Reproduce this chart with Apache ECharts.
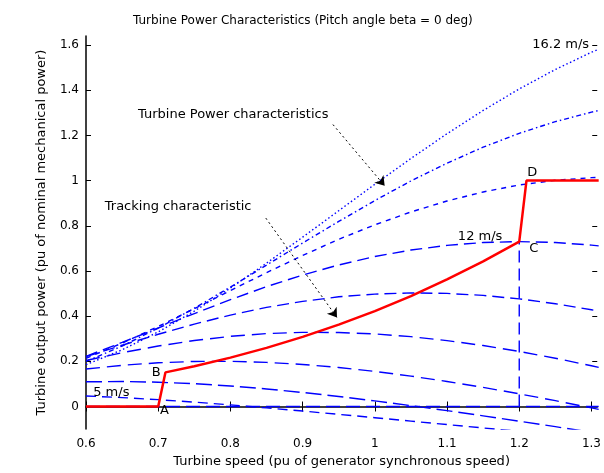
<!DOCTYPE html>
<html>
<head>
<meta charset="utf-8">
<script src="https://cdn.jsdelivr.net/npm/echarts@6/dist/echarts.min.js"></script>
<style>
  html, body { margin: 0; padding: 0; background: #fff; }
  #chart { width: 604px; height: 473px; }
</style>
</head>
<body>
<div id="chart"></div>
<script>
// turbine speed samples (pu)
var speed = [0.6, 0.65, 0.7, 0.75, 0.8, 0.85, 0.9, 0.95, 1.0, 1.05, 1.1, 1.15, 1.2, 1.25, 1.3, 1.31];

// turbine output power (pu) for each wind speed
var p162 = [0.1854, 0.2508, 0.3302, 0.4221, 0.5244, 0.6344, 0.7495, 0.8667, 0.9836, 1.0979, 1.2074, 1.3105, 1.4057, 1.4918, 1.5681, 1.5813];
var p148 = [0.1995, 0.2677, 0.3471, 0.4351, 0.5287, 0.6258, 0.7236, 0.8194, 0.9116, 0.9983, 1.0771, 1.1478, 1.2093, 1.2610, 1.3028, 1.3101];
var p134 = [0.2133, 0.2804, 0.3543, 0.4332, 0.5133, 0.5924, 0.6685, 0.7401, 0.8043, 0.8611, 0.9097, 0.9497, 0.9806, 1.0012, 1.0129, 1.0142];
var p120 = [0.2221, 0.2836, 0.3475, 0.4114, 0.4729, 0.5305, 0.5818, 0.6265, 0.6641, 0.6925, 0.7132, 0.7258, 0.7300, 0.7260, 0.7144, 0.7112];
var p106 = [0.2211, 0.2712, 0.3197, 0.3649, 0.4047, 0.4389, 0.4655, 0.4856, 0.4976, 0.5029, 0.5006, 0.4918, 0.4764, 0.4551, 0.4282, 0.4224];
var p92 = [0.2037, 0.2380, 0.2677, 0.2922, 0.3106, 0.3228, 0.3282, 0.3276, 0.3212, 0.3092, 0.2918, 0.2698, 0.2437, 0.2138, 0.1802, 0.1731];
var p78 = [0.1658, 0.1824, 0.1936, 0.1995, 0.2000, 0.1954, 0.1862, 0.1727, 0.1553, 0.1346, 0.1109, 0.0847, 0.0561, 0.0258, -0.0061, -0.0128];
var p64 = [0.1093, 0.1106, 0.1077, 0.1010, 0.0908, 0.0778, 0.0621, 0.0444, 0.0248, 0.0039, -0.0183, -0.0413, -0.0651, -0.0893, -0.1138, -0.1188];
var p50 = [0.0466, 0.0395, 0.0303, 0.0193, 0.0071, -0.0062, -0.0201, -0.0347, -0.0496, -0.0647, -0.0799, -0.0950, -0.1101, -0.1251, -0.1398, -0.1427];

// tracking characteristic A-B-C-D
var trackSpeed = [0.6, 0.7, 0.71, 0.75, 0.8, 0.85, 0.9, 0.95, 1.0, 1.05, 1.1, 1.15, 1.2, 1.21, 1.31];
var trackPower = [0, 0, 0.151, 0.1782, 0.2163, 0.2594, 0.3080, 0.3622, 0.4225, 0.4890, 0.5623, 0.6425, 0.73, 1.0, 1.0];

// helper lines
var zeroSpeed = [0.6, 1.31];
var zeroPower = [0, 0];
var cSpeed = [1.2, 1.2];
var cPower = [0, 0.73];

// tick labels
var xTicks = [0.6, 0.7, 0.8, 0.9, 1, 1.1, 1.2, 1.3];
var yTicks = [0, 0.2, 0.4, 0.6, 0.8, 1, 1.2, 1.4, 1.6];

// text annotations [speed, power, text]
var notes = [
  [0.672, 1.292, 'Turbine Power characteristics'],
  [0.626, 0.884, 'Tracking characteristic'],
  [1.218, 1.60, '16.2 m/s'],
  [1.115, 0.75, '12 m/s'],
  [0.61, 0.06, '5 m/s'],
  [0.7024, -0.018, 'A'],
  [0.691, 0.149, 'B'],
  [1.214, 0.699, 'C'],
  [1.211, 1.037, 'D']
];
var arrows = [
  [[0.942, 1.248], [1.0136, 0.977]],
  [[0.849, 0.834], [0.9476, 0.394]]
];

var font = 'DejaVu Sans, Liberation Sans, sans-serif';

function pairs (xs, ys) {
  return xs.map(function (x, i) { return [x, ys[i]] })
}

var curves = [
  { data: p162, dash: [1.5, 2.5] },
  { data: p148, dash: [5, 3, 1.5, 3] },
  { data: p134, dash: [5, 5] },
  { data: p120, dash: [12, 6] },
  { data: p106, dash: [12, 6] },
  { data: p92, dash: [14, 7] },
  { data: p78, dash: [14, 7] },
  { data: p64, dash: [16, 6] },
  { data: p50, dash: [10, 6] }
]

var series = curves.map(function (c) {
  return {
    type: 'line',
    data: pairs(speed, c.data),
    symbol: 'none',
    lineStyle: { color: '#0000ff', width: 1.4, type: c.dash },
    z: 2
  }
})

series.push({
  type: 'line',
  data: pairs(zeroSpeed, zeroPower),
  symbol: 'none',
  lineStyle: { color: '#0000ff', width: 1.4, type: [14, 6] },
  z: 2
})
series.push({
  type: 'line',
  data: pairs(cSpeed, cPower),
  symbol: 'none',
  lineStyle: { color: '#0000ff', width: 1.4, type: [12, 6] },
  z: 2
})
series.push({
  type: 'line',
  data: pairs(trackSpeed, trackPower),
  symbol: 'none',
  lineStyle: { color: '#ff0000', width: 2.5 },
  z: 5
})
series.push({
  type: 'scatter',
  symbolSize: 0,
  silent: true,
  data: notes.map(function (n) {
    return { value: [n[0], n[1]], name: n[2] }
  }),
  label: {
    show: true,
    position: 'right',
    distance: 0,
    formatter: '{b}',
    color: '#000000',
    opacity: 1,
    fontSize: 13,
    fontFamily: font
  },
  markLine: {
    silent: true,
    symbol: ['none', 'arrow'],
    symbolSize: 9,
    label: { show: false },
    lineStyle: { color: '#000', width: 1, type: [2, 3] },
    data: arrows.map(function (a) {
      return [{ coord: a[0] }, { coord: a[1] }]
    })
  },
  z: 6
})

var chart = echarts.init(document.getElementById('chart'))
chart.setOption({
  animation: false,
  backgroundColor: '#fff',
  title: {
    text: 'Turbine Power Characteristics (Pitch angle beta = 0 deg)',
    left: 128,
    top: 10,
    textStyle: { fontSize: 12, fontWeight: 'normal', color: '#000', fontFamily: font }
  },
  grid: { left: 86, right: 6, top: 36, bottom: 41 },
  xAxis: [{
    type: 'value',
    min: 0.6,
    max: 1.308,
    name: 'Turbine speed (pu of generator synchronous speed)',
    nameLocation: 'middle',
    nameGap: 24,
    nameTextStyle: { fontSize: 13, color: '#000', fontFamily: font },
    axisLine: { show: false },
    axisTick: { inside: true, length: 5, customValues: xTicks, lineStyle: { color: '#000' } },
    axisLabel: { customValues: xTicks, margin: 9, fontSize: 12, color: '#000', fontFamily: font },
    splitLine: { show: false }
  }, {
    type: 'value',
    position: 'top',
    min: 0.6,
    max: 1.308,
    axisLine: { show: true, lineStyle: { color: '#000', width: 1.5 } },
    axisTick: { inside: true, length: 5, customValues: xTicks, lineStyle: { color: '#000' } },
    axisLabel: { show: false },
    splitLine: { show: false }
  }],
  yAxis: [{
    type: 'value',
    min: -0.1,
    max: 1.64,
    name: 'Turbine output power (pu of nominal mechanical power)',
    nameLocation: 'middle',
    nameGap: 38,
    nameTextStyle: { fontSize: 13, color: '#000', fontFamily: font },
    axisLine: { show: true, lineStyle: { color: '#000', width: 1.5 } },
    axisTick: { inside: true, length: 5, customValues: yTicks, lineStyle: { color: '#000' } },
    axisLabel: { customValues: yTicks, margin: 7, fontSize: 12, color: '#000', fontFamily: font },
    splitLine: { show: false }
  }, {
    type: 'value',
    position: 'right',
    min: -0.1,
    max: 1.64,
    axisLine: { show: false },
    axisTick: { inside: true, length: 5, customValues: yTicks, lineStyle: { color: '#000' } },
    axisLabel: { show: false },
    splitLine: { show: false }
  }],
  series: series
})
</script>
</body>
</html>
